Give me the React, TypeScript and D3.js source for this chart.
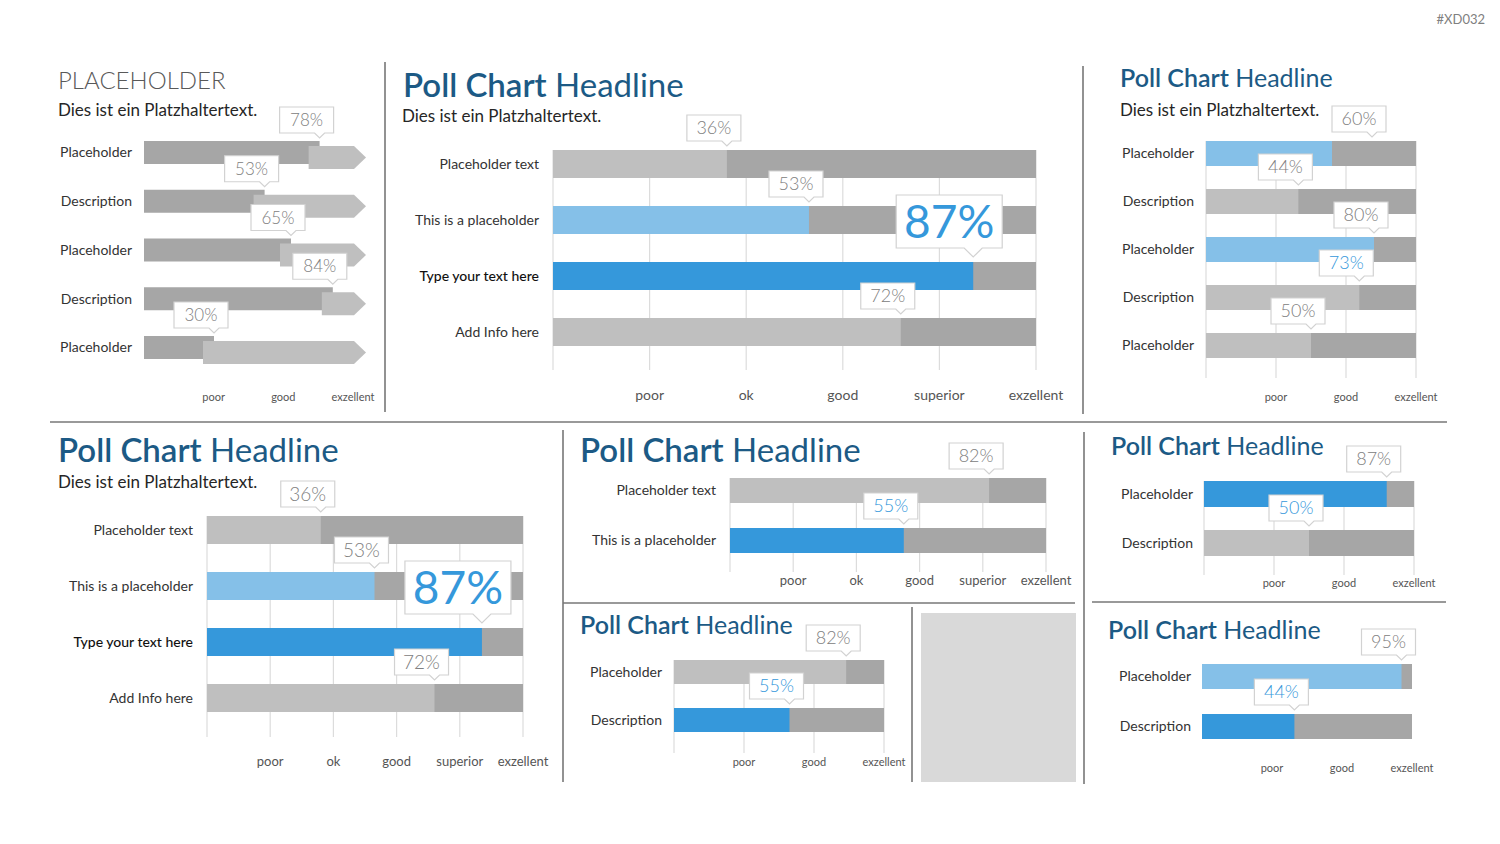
import React from "react";
import * as d3 from "d3";

// ---------- data ----------
const ticks3 = ["poor", "good", "exzellent"];
const ticks5 = ["poor", "ok", "good", "superior", "exzellent"];

const p1Labels = ["Placeholder", "Description", "Placeholder", "Description", "Placeholder"];
const p1Values = [78, 53, 65, 84, 30];

const p2Labels = ["Placeholder text", "This is a placeholder", "Type your text here", "Add Info here"];
const p2Values = [36, 53, 87, 72];
const p2Tones = ["light", "sky", "blue", "light"];

const p3Labels = ["Placeholder", "Description", "Placeholder", "Description", "Placeholder"];
const p3Values = [60, 44, 80, 73, 50];
const p3Tones = ["sky", "light", "sky", "light", "light"];
const p3Accent = [false, false, false, true, false];

const p4Labels = ["Placeholder text", "This is a placeholder", "Type your text here", "Add Info here"];
const p4Values = [36, 53, 87, 72];
const p4Tones = ["light", "sky", "blue", "light"];

const p5Labels = ["Placeholder text", "This is a placeholder"];
const p5Values = [82, 55];
const p5Tones = ["light", "blue"];

const p6Labels = ["Placeholder", "Description"];
const p6Values = [82, 55];
const p6Tones = ["light", "blue"];

const p7Labels = ["Placeholder", "Description"];
const p7Values = [87, 50];
const p7Tones = ["blue", "light"];

const p8Labels = ["Placeholder", "Description"];
const p8Values = [95, 44];
const p8Tones = ["sky", "blue"];

// ---------- styles ----------
const FONT = "Lato, 'Open Sans', sans-serif";
const TONE: Record<string, string> = {
  track: "#a6a6a6",
  light: "#bfbfbf",
  sky: "#85c0e8",
  blue: "#3598db",
};
const TITLE_BLUE = "#1c5a85";
const GRID = "#dcdcdc";
const SEP = "#777777";

type CalloutProps = {
  px: number;
  tip: number;
  w: number;
  h: number;
  ph: number;
  off: number;
  text: string;
  color: string;
  size: number;
  weight: number;
};

function Callout({ px, tip, w, h, ph, off, text, color, size, weight }: CalloutProps) {
  const right = px + off;
  const left = right - w;
  const bottom = tip - ph;
  const top = bottom - h;
  const hw = ph;
  const path = `M${left},${top}H${right}V${bottom}H${px + hw}L${px},${tip}L${px - hw},${bottom}H${left}Z`;
  return (
    <g>
      <path d={path} fill="#fff" stroke="#d2d2d2" strokeWidth={1.2} />
      <text
        x={(left + right) / 2}
        y={top + h / 2}
        dy="0.36em"
        textAnchor="middle"
        fontSize={size}
        fontWeight={weight}
        fill={color}
        fontFamily={FONT}
      >
        {text}
      </text>
    </g>
  );
}

type Title = { x: number; y: number; size: number };

function Headline({ x, y, size }: Title) {
  return (
    <text x={x} y={y} fontSize={size} fill={TITLE_BLUE} fontFamily={FONT}>
      <tspan fontWeight={600}>Poll Chart</tspan>
      <tspan fontWeight={400}> Headline</tspan>
    </text>
  );
}

function Sub({ x, y }: { x: number; y: number }) {
  return (
    <text x={x} y={y} fontSize={17} fill="#262626" fontFamily={FONT}>
      Dies ist ein Platzhaltertext.
    </text>
  );
}

type PanelProps = {
  labels: string[];
  values: number[];
  tones: string[];
  accent?: boolean[];
  ticks: string[];
  x0: number;
  x1: number;
  top: number;
  step: number;
  barH: number;
  labelX: number;
  labelSize: number;
  axisY: number;
  axisSize: number;
  gridBottom: number | null;
  big?: number;
  strong?: number;
  cSize: number;
  // horizontal nudge of a callout pointer, per row
  nudge?: number[];
};

function PollPanel(p: PanelProps) {
  const x = d3.scaleLinear().domain([0, 100]).range([p.x0, p.x1]);
  const y = (i: number) => p.top + i * p.step;
  const tickX = d3
    .scaleLinear()
    .domain([0, p.ticks.length])
    .range([p.x0, p.x1]);
  const gridIdx = d3.range(0, p.ticks.length + 1);
  return (
    <g fontFamily={FONT}>
      {p.gridBottom !== null &&
        gridIdx.map((k) => (
          <line
            key={"g" + k}
            x1={tickX(k)}
            x2={tickX(k)}
            y1={p.top}
            y2={p.gridBottom as number}
            stroke={GRID}
            strokeWidth={1.2}
          />
        ))}
      {p.values.map((v, i) => (
        <g key={"b" + i}>
          <rect x={p.x0} y={y(i)} width={p.x1 - p.x0} height={p.barH} fill={TONE.track} />
          <rect x={p.x0} y={y(i)} width={x(v) - p.x0} height={p.barH} fill={TONE[p.tones[i]]} />
          <text
            x={p.labelX}
            y={y(i) + p.barH / 2}
            dy="0.35em"
            textAnchor="end"
            fontSize={p.labelSize}
            fill={p.strong === i ? "#111" : "#333"}
            fontWeight={p.strong === i ? 500 : 400}
          >
            {p.labels[i]}
          </text>
        </g>
      ))}
      {p.ticks.map((t, k) => (
        <text
          key={"t" + k}
          x={tickX(k + 1)}
          y={p.axisY}
          textAnchor="middle"
          fontSize={p.axisSize}
          fill="#555"
        >
          {t}
        </text>
      ))}
      {p.values.map((v, i) =>
        p.big === i ? (
          <Callout
            key={"c" + i}
            px={x(v)}
            tip={y(i) - 5}
            w={106}
            h={53}
            ph={9}
            off={29}
            text={`${v}%`}
            color={TONE.blue}
            size={46}
            weight={400}
          />
        ) : (
          <Callout
            key={"c" + i}
            px={x(v) + (p.nudge ? p.nudge[i] : 0)}
            tip={y(i) - 4}
            w={54}
            h={26}
            ph={5}
            off={14}
            text={`${v}%`}
            color={p.accent && p.accent[i] ? TONE.blue : "#808080"}
            size={p.cSize}
            weight={300}
          />
        )
      )}
    </g>
  );
}

// Arrow-style panel: dark bar for the score, light chevron track behind it
function ArrowPanel() {
  const x = d3.scaleLinear().domain([0, 100]).range([148, 368]);
  const tickX = d3.scaleLinear().domain([0, 3]).range([144, 353]);
  const y = d3.scaleLinear().domain([0, 1]).range([141, 189.75]);
  const left = 144;
  const tipX = 366;
  const h = 23;
  const head = 12;
  return (
    <g fontFamily={FONT}>
      {p1Values.map((v, i) => {
        const top = y(i);
        const end = x(v);
        const a0 = end - 11;
        const at = top + 5;
        const arrow = `M${a0},${at}H${tipX - head}L${tipX},${at + h / 2}L${tipX - head},${at + h}H${a0}Z`;
        return (
          <g key={i}>
            <rect x={left} y={top} width={end - left} height={h} fill={TONE.track} />
            <path d={arrow} fill={TONE.light} />
            <text
              x={132}
              y={top + h / 2}
              dy="0.35em"
              textAnchor="end"
              fontSize={14}
              fill="#333"
            >
              {p1Labels[i]}
            </text>
          </g>
        );
      })}
      {ticks3.map((t, k) => (
        <text key={t} x={tickX(k + 1)} y={401} textAnchor="middle" fontSize={11} fill="#555">
          {t}
        </text>
      ))}
      {p1Values.map((v, i) => (
        <Callout
          key={"c" + i}
          px={x(v)}
          tip={y(i) - 3}
          w={54}
          h={26}
          ph={5}
          off={14}
          text={`${v}%`}
          color="#808080"
          size={17}
          weight={300}
        />
      ))}
    </g>
  );
}

export default function App() {
  return (
    <div style={{ position: "absolute", left: 0, top: 0 }}>
      <svg width={1500} height={844} style={{ display: "block", background: "#fff" }}>
        <text x={1485} y={24} textAnchor="end" fontSize={13} fill="#808080" fontFamily={FONT}>
          #XD032
        </text>

        {/* separators */}
        <g stroke={SEP} strokeWidth={1.6}>
          <line x1={50} x2={1447} y1={422} y2={422} />
          <line x1={385} x2={385} y1={62} y2={412} />
          <line x1={1083} x2={1083} y1={66} y2={414} />
          <line x1={563} x2={563} y1={430} y2={782} />
          <line x1={1084} x2={1084} y1={432} y2={784} />
          <line x1={563} x2={1075} y1={603} y2={603} />
          <line x1={1092} x2={1446} y1={602} y2={602} />
          <line x1={912} x2={912} y1={607} y2={782} />
        </g>
        <rect x={921} y={613} width={155} height={169} fill="#d9d9d9" />

        {/* panel 1 */}
        <text x={58} y={89} fontSize={24} fontWeight={300} fill="#595959" fontFamily={FONT}>
          PLACEHOLDER
        </text>
        <Sub x={58} y={116} />
        <ArrowPanel />

        {/* panel 2 */}
        <Headline x={403} y={97} size={33} />
        <Sub x={402} y={122} />
        <PollPanel
          labels={p2Labels}
          values={p2Values}
          tones={p2Tones}
          ticks={ticks5}
          x0={553}
          x1={1036}
          top={150}
          step={56}
          barH={28}
          labelX={539}
          labelSize={14}
          axisY={400}
          axisSize={14}
          gridBottom={370}
          big={2}
          strong={2}
          cSize={18}
        />

        {/* panel 3 */}
        <Headline x={1120} y={87} size={25} />
        <Sub x={1120} y={116} />
        <PollPanel
          labels={p3Labels}
          values={p3Values}
          tones={p3Tones}
          accent={p3Accent}
          ticks={ticks3}
          x0={1206}
          x1={1416}
          top={141}
          step={48}
          barH={25}
          labelX={1194}
          labelSize={14}
          axisY={401}
          axisSize={11}
          gridBottom={378}
          cSize={18}
          nudge={[40, 0, 0, 0, 0]}
        />

        {/* panel 4 */}
        <Headline x={58} y={462} size={33} />
        <Sub x={58} y={488} />
        <PollPanel
          labels={p4Labels}
          values={p4Values}
          tones={p4Tones}
          ticks={ticks5}
          x0={207}
          x1={523}
          top={516}
          step={56}
          barH={28}
          labelX={193}
          labelSize={14}
          axisY={766}
          axisSize={13}
          gridBottom={737}
          big={2}
          strong={2}
          cSize={19}
        />

        {/* panel 5 */}
        <Headline x={580} y={462} size={33} />
        <PollPanel
          labels={p5Labels}
          values={p5Values}
          tones={p5Tones}
          accent={[false, true]}
          ticks={ticks5}
          x0={730}
          x1={1046}
          top={478}
          step={50}
          barH={25}
          labelX={716}
          labelSize={14}
          axisY={585}
          axisSize={13}
          gridBottom={572}
          cSize={18}
        />

        {/* panel 6 */}
        <Headline x={580} y={634} size={25} />
        <PollPanel
          labels={p6Labels}
          values={p6Values}
          tones={p6Tones}
          accent={[false, true]}
          ticks={ticks3}
          x0={674}
          x1={884}
          top={660}
          step={48}
          barH={24}
          labelX={662}
          labelSize={14}
          axisY={766}
          axisSize={11}
          gridBottom={753}
          cSize={18}
        />

        {/* panel 7 */}
        <Headline x={1111} y={455} size={25} />
        <PollPanel
          labels={p7Labels}
          values={p7Values}
          tones={p7Tones}
          accent={[false, true]}
          ticks={ticks3}
          x0={1204}
          x1={1414}
          top={481}
          step={49}
          barH={26}
          labelX={1193}
          labelSize={14}
          axisY={587}
          axisSize={11}
          gridBottom={575}
          cSize={18}
        />

        {/* panel 8 */}
        <Headline x={1108} y={639} size={25} />
        <PollPanel
          labels={p8Labels}
          values={p8Values}
          tones={p8Tones}
          accent={[false, true]}
          ticks={ticks3}
          x0={1202}
          x1={1412}
          top={664}
          step={50}
          barH={25}
          labelX={1191}
          labelSize={14}
          axisY={772}
          axisSize={11}
          gridBottom={null}
          cSize={18}
        />
      </svg>
    </div>
  );
}
